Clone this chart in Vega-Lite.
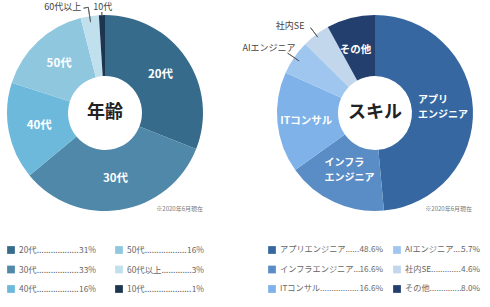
{
  "$schema": "https://vega.github.io/schema/vega-lite/v6.json",
  "padding": 0,
  "bounds": "flush",
  "columns": 2,
  "spacing": {"column": 50, "row": 0},
  "background": "white",
  "config": {
    "view": {"stroke": null},
    "font": "Noto Sans CJK JP",
    "text": {"font": "Noto Sans CJK JP"},
    "title": {"font": "Noto Sans CJK JP"}
  },
  "datasets": {
    "age": [
      {"name": "20代", "label": "20代", "pct": 31, "order": 1},
      {"name": "30代", "label": "30代", "pct": 33, "order": 2},
      {"name": "40代", "label": "40代", "pct": 16, "order": 3},
      {"name": "50代", "label": "50代", "pct": 16, "order": 4},
      {"name": "60代以上", "label": "60代以上", "pct": 3, "order": 5},
      {"name": "10代", "label": "10代", "pct": 1, "order": 6}
    ],
    "skill": [
      {"name": "アプリエンジニア", "label": "アプリ", "sub": "エンジニア", "pct": 48.6, "order": 1},
      {"name": "インフラエンジニア", "label": "インフラ", "sub": "エンジニア", "pct": 16.6, "order": 2},
      {"name": "ITコンサル", "label": "ITコンサル", "sub": "", "pct": 16.6, "order": 3},
      {"name": "AIエンジニア", "label": "AIエンジニア", "sub": "", "pct": 5.7, "order": 4},
      {"name": "社内SE", "label": "社内SE", "sub": "", "pct": 4.6, "order": 5},
      {"name": "その他", "label": "その他", "sub": "", "pct": 8.0, "order": 6}
    ]
  },
  "resolve": {"scale": {"color": "independent", "theta": "independent", "x": "independent", "y": "independent"}},
  "concat": [
    {
      "width": 210,
      "height": 226,
      "title": {"text": "※2020年6月現在", "orient": "bottom", "anchor": "end", "frame": "group", "offset": -20, "dx": -7, "fontSize": 6, "fontWeight": "normal", "color": "#777"},
      "data": {"name": "age"},
      "transform": [
        {"stack": "pct", "groupby": [], "sort": [{"field": "order", "order": "ascending"}], "as": ["s0", "s1"]},
        {"calculate": "(datum.s0 + datum.s1) / 2", "as": "mid"}
      ],
      "layer": [
        {
          "mark": {"type": "arc", "outerRadius": 98, "innerRadius": 37},
          "encoding": {
            "theta": {"field": "s0", "type": "quantitative", "scale": {"domain": [0, 100], "nice": false}},
            "theta2": {"field": "s1"},
            "color": {"field": "name", "type": "nominal", "legend": null,
              "scale": {"domain": ["20代", "30代", "40代", "50代", "60代以上", "10代"],
                        "range": ["#376b8c", "#4f88a8", "#6cb9dc", "#8fc7df", "#c0e0ee", "#1d3650"]}}
          }
        },
        {
          "transform": [{"filter": "datum.pct >= 8"}],
          "mark": {"type": "text", "radius": 67, "color": "white", "fontWeight": "bold", "fontSize": 11.5, "baseline": "middle"},
          "encoding": {"theta": {"field": "mid", "type": "quantitative"}, "text": {"field": "label"}}
        },
        {
          "transform": [{"filter": "datum.name === '60代以上'"}],
          "mark": {"type": "arc", "innerRadius": 92, "outerRadius": 107, "filled": false, "stroke": "#555", "strokeWidth": 0.8},
          "encoding": {"theta": {"field": "mid", "type": "quantitative"}, "theta2": {"field": "mid"}}
        },
        {
          "transform": [{"filter": "datum.name === '60代以上'"}],
          "mark": {"type": "arc", "innerRadius": 107, "outerRadius": 107, "theta2Offset": -0.045, "filled": false, "stroke": "#555", "strokeWidth": 0.8},
          "encoding": {"theta": {"field": "mid", "type": "quantitative"}, "theta2": {"field": "mid"}}
        },
        {
          "transform": [{"filter": "datum.name === '60代以上'"}],
          "mark": {"type": "text", "radius": 107, "align": "right", "baseline": "middle", "dx": -7, "fontSize": 9, "color": "#444"},
          "encoding": {"theta": {"field": "mid", "type": "quantitative"}, "text": {"field": "label"}}
        },
        {
          "transform": [{"filter": "datum.name === '10代'"}],
          "mark": {"type": "arc", "innerRadius": 97, "outerRadius": 101, "filled": false, "stroke": "#555", "strokeWidth": 0.8},
          "encoding": {"theta": {"field": "mid", "type": "quantitative"}, "theta2": {"field": "mid"}}
        },
        {
          "transform": [{"filter": "datum.name === '10代'"}],
          "mark": {"type": "text", "radius": 107, "align": "center", "baseline": "middle", "dx": 1, "dy": 1, "fontSize": 9, "color": "#444"},
          "encoding": {"theta": {"field": "mid", "type": "quantitative"}, "text": {"field": "label"}}
        },
        {
          "data": {"values": [{"center": "年齢"}]},
          "mark": {"type": "text", "fontSize": 18, "fontWeight": "bold", "color": "#222", "baseline": "middle"},
          "encoding": {"text": {"field": "center"}}
        }
      ]
    },
    {
      "width": 230,
      "height": 226,
      "title": {"text": "※2020年6月現在", "orient": "bottom", "anchor": "end", "frame": "group", "offset": -20, "dx": -18, "fontSize": 6, "fontWeight": "normal", "color": "#777"},
      "data": {"name": "skill"},
      "transform": [
        {"stack": "pct", "groupby": [], "sort": [{"field": "order", "order": "ascending"}], "as": ["s0", "s1"]},
        {"calculate": "(datum.s0 + datum.s1) / 2", "as": "mid"}
      ],
      "layer": [
        {
          "mark": {"type": "arc", "outerRadius": 98, "innerRadius": 37},
          "encoding": {
            "theta": {"field": "s0", "type": "quantitative", "scale": {"domain": [0, 100.1], "nice": false}},
            "theta2": {"field": "s1"},
            "color": {"field": "name", "type": "nominal", "legend": null,
              "scale": {"domain": ["アプリエンジニア", "インフラエンジニア", "ITコンサル", "AIエンジニア", "社内SE", "その他"],
                        "range": ["#3667a0", "#5a8cc5", "#7eb2e8", "#9fc6ef", "#c2d6ec", "#233f6e"]}}
          }
        },
        {
          "transform": [{"filter": "datum.pct >= 8 && datum.sub === ''"}],
          "mark": {"type": "text", "radius": 66, "color": "white", "fontWeight": "bold", "fontSize": 10.5, "baseline": "middle", "dx": -3, "dy": 1},
          "encoding": {"theta": {"field": "mid", "type": "quantitative"}, "text": {"field": "label"}}
        },
        {
          "transform": [{"filter": "datum.sub !== ''"}],
          "mark": {"type": "text", "radius": 66, "color": "white", "fontWeight": "bold", "fontSize": 10, "align": "left", "baseline": "middle", "dx": -23, "dy": -10},
          "encoding": {"theta": {"field": "mid", "type": "quantitative"}, "text": {"field": "label"}}
        },
        {
          "transform": [{"filter": "datum.sub !== ''"}],
          "mark": {"type": "text", "radius": 66, "color": "white", "fontWeight": "bold", "fontSize": 10, "align": "left", "baseline": "middle", "dx": -23, "dy": 4.8},
          "encoding": {"theta": {"field": "mid", "type": "quantitative"}, "text": {"field": "sub"}}
        },
        {
          "transform": [{"filter": "datum.name === '社内SE'"}],
          "mark": {"type": "arc", "innerRadius": 95, "outerRadius": 107, "filled": false, "stroke": "#555", "strokeWidth": 0.8},
          "encoding": {"theta": {"field": "mid", "type": "quantitative"}, "theta2": {"field": "mid"}}
        },
        {
          "transform": [{"filter": "datum.name === '社内SE'"}],
          "mark": {"type": "text", "radius": 107, "align": "right", "baseline": "middle", "dx": -6, "dy": -2, "fontSize": 9, "color": "#444"},
          "encoding": {"theta": {"field": "mid", "type": "quantitative"}, "text": {"field": "label"}}
        },
        {
          "transform": [{"filter": "datum.name === 'AIエンジニア'"}],
          "mark": {"type": "arc", "innerRadius": 92, "outerRadius": 106, "filled": false, "stroke": "#555", "strokeWidth": 0.8},
          "encoding": {"theta": {"field": "mid", "type": "quantitative"}, "theta2": {"field": "mid"}}
        },
        {
          "transform": [{"filter": "datum.name === 'AIエンジニア'"}],
          "mark": {"type": "text", "radius": 106, "align": "right", "baseline": "middle", "dx": 8, "dy": -5, "fontSize": 9, "color": "#444"},
          "encoding": {"theta": {"field": "mid", "type": "quantitative"}, "text": {"field": "label"}}
        },
        {
          "data": {"values": [{"center": "スキル"}]},
          "mark": {"type": "text", "fontSize": 18, "fontWeight": "bold", "color": "#222", "baseline": "middle"},
          "encoding": {"text": {"field": "center"}}
        }
      ]
    },
    {
      "width": 210,
      "height": 81,
      "data": {"name": "age"},
      "transform": [
        {"calculate": "floor((datum.order - 1) / 3)", "as": "col"},
        {"calculate": "(datum.order - 1) % 3", "as": "row"},
        {"calculate": "datum.name + '........................................................'", "as": "dotted"},
        {"calculate": "format(datum.pct, '.0f') + '%'", "as": "pctText"},
        {"calculate": "length(format(datum.pct, '.0f')) * 4.6 + 6.5", "as": "pctWidth"}
      ],
      "encoding": {
        "x": {"field": "col", "type": "ordinal", "axis": null, "scale": {"type": "point", "range": [11, 119], "padding": 0}},
        "y": {"field": "row", "type": "ordinal", "axis": null, "scale": {"type": "point", "range": [24, 63], "padding": 0}}
      },
      "layer": [
        {
          "mark": {"type": "square", "size": 60, "opacity": 1},
          "encoding": {"color": {"field": "name", "type": "nominal", "legend": null,
            "scale": {"domain": ["20代", "30代", "40代", "50代", "60代以上", "10代"],
                      "range": ["#376b8c", "#4f88a8", "#6cb9dc", "#8fc7df", "#c0e0ee", "#1d3650"]}}}
        },
        {
          "mark": {"type": "text", "align": "left", "baseline": "middle", "dx": 8, "limit": {"expr": "77 - datum.pctWidth"}, "ellipsis": ".", "fontSize": 8.4, "color": "#666"},
          "encoding": {"text": {"field": "dotted"}}
        },
        {
          "mark": {"type": "text", "align": "right", "baseline": "middle", "dx": 85, "fontSize": 8.4, "color": "#666"},
          "encoding": {"text": {"field": "pctText"}}
        }
      ]
    },
    {
      "width": 230,
      "height": 81,
      "data": {"name": "skill"},
      "transform": [
        {"calculate": "floor((datum.order - 1) / 3)", "as": "col"},
        {"calculate": "(datum.order - 1) % 3", "as": "row"},
        {"calculate": "datum.name + '........................................................'", "as": "dotted"},
        {"calculate": "format(datum.pct, '.1f') + '%'", "as": "pctText"},
        {"calculate": "(length(format(datum.pct, '.1f')) - 1) * 4.5 + 2 + 6.5", "as": "pctWidth"}
      ],
      "encoding": {
        "x": {"field": "col", "type": "ordinal", "axis": null, "scale": {"type": "point", "range": [12, 137], "padding": 0}},
        "y": {"field": "row", "type": "ordinal", "axis": null, "scale": {"type": "point", "range": [24, 63], "padding": 0}}
      },
      "layer": [
        {
          "mark": {"type": "square", "size": 60, "opacity": 1},
          "encoding": {"color": {"field": "name", "type": "nominal", "legend": null,
            "scale": {"domain": ["アプリエンジニア", "インフラエンジニア", "ITコンサル", "AIエンジニア", "社内SE", "その他"],
                      "range": ["#3667a0", "#5a8cc5", "#7eb2e8", "#9fc6ef", "#c2d6ec", "#233f6e"]}}}
        },
        {
          "transform": [{"filter": "datum.col == 0"}],
          "mark": {"type": "text", "align": "left", "baseline": "middle", "dx": 8, "limit": {"expr": "103 - datum.pctWidth"}, "ellipsis": ".", "fontSize": 8.2, "color": "#666"},
          "encoding": {"text": {"field": "dotted"}}
        },
        {
          "transform": [{"filter": "datum.col == 1"}],
          "mark": {"type": "text", "align": "left", "baseline": "middle", "dx": 8, "limit": {"expr": "75 - datum.pctWidth"}, "ellipsis": ".", "fontSize": 8.2, "color": "#666"},
          "encoding": {"text": {"field": "dotted"}}
        },
        {
          "transform": [{"filter": "datum.col == 0"}],
          "mark": {"type": "text", "align": "right", "baseline": "middle", "dx": 111, "fontSize": 8.2, "color": "#666"},
          "encoding": {"text": {"field": "pctText"}}
        },
        {
          "transform": [{"filter": "datum.col == 1"}],
          "mark": {"type": "text", "align": "right", "baseline": "middle", "dx": 83, "fontSize": 8.2, "color": "#666"},
          "encoding": {"text": {"field": "pctText"}}
        }
      ]
    }
  ]
}
